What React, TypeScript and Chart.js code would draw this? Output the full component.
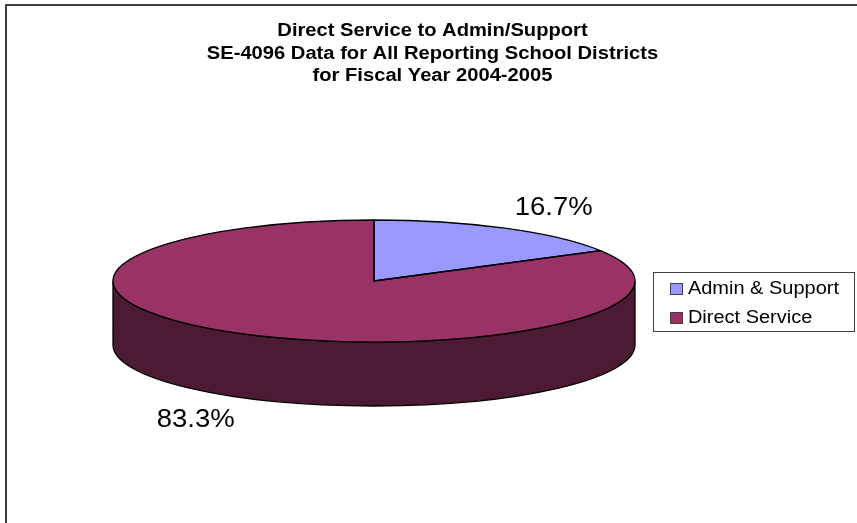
import { useEffect, useRef } from "react";
import { Chart, registerables } from "chart.js";
import type { Plugin } from "chart.js";

Chart.register(...registerables);

const categories = ["Admin & Support", "Direct Service"];
const shares = [16.7, 83.3];
const topColors = ["#9999ff", "#993366"];
const wallColors = ["#4d4d80", "#4d1a33"];
const titleLines = [
  "Direct Service to Admin/Support",
  "SE-4096 Data for All Reporting School Districts",
  "for Fiscal Year 2004-2005",
];

const FONT = "'Liberation Sans', Arial, sans-serif";

// Tilted-disc geometry of the pie on the canvas.
const CENTER_X = 374;
const CENTER_Y = 281;
const RADIUS_X = 261;
const RADIUS_Y = 61;
const DEPTH = 64;

// All text on this chart is set a little wider than the font's natural width.
const TITLE_STRETCH = 1.12;
const LEGEND_STRETCH = 1.11;
const LABEL_STRETCH = 1.1;

// Percentage labels: distance from the rim at each slice's mid angle.
const LABEL_SHIFT = [
  { dx: 49, dy: -20 },
  { dx: -47.5, dy: 86 },
];

function stretchDraw(ctx: CanvasRenderingContext2D, block: any, getOrigin: () => number, factor: number) {
  const draw = block.draw.bind(block);
  block.draw = (area: any) => {
    const origin = getOrigin();
    ctx.save();
    ctx.translate(origin, 0);
    ctx.scale(factor, 1);
    ctx.translate(-origin, 0);
    draw(area);
    ctx.restore();
  };
}

const tiltedPie: Plugin<"pie"> = {
  id: "tiltedPie",
  beforeDatasetsDraw(chart) {
    const { ctx } = chart;
    const arcs = chart.getDatasetMeta(0).data as any[];
    const first = arcs[0];

    // Side wall, visible only on the front half of the disc.
    arcs.forEach((arc, i) => {
      const start = Math.max(arc.startAngle, 0);
      const end = Math.min(arc.endAngle, Math.PI);
      if (end <= start) return;
      ctx.save();
      ctx.beginPath();
      ctx.ellipse(CENTER_X, CENTER_Y, RADIUS_X, RADIUS_Y, 0, start, end);
      ctx.ellipse(CENTER_X, CENTER_Y + DEPTH, RADIUS_X, RADIUS_Y, 0, end, start, true);
      ctx.closePath();
      ctx.fillStyle = wallColors[i];
      ctx.fill();
      ctx.strokeStyle = "#000";
      ctx.lineWidth = 1.3;
      ctx.stroke();
      ctx.restore();
    });

    // The library's own arcs are squashed onto the ellipse.
    ctx.save();
    ctx.translate(CENTER_X, CENTER_Y);
    ctx.scale(RADIUS_X / first.outerRadius, RADIUS_Y / first.outerRadius);
    ctx.translate(-first.x, -first.y);
  },
  afterDatasetsDraw(chart) {
    const { ctx } = chart;
    ctx.restore();
    const arcs = chart.getDatasetMeta(0).data as any[];

    arcs.forEach((arc, i) => {
      ctx.save();
      ctx.beginPath();
      ctx.moveTo(CENTER_X, CENTER_Y);
      ctx.ellipse(CENTER_X, CENTER_Y, RADIUS_X, RADIUS_Y, 0, arc.startAngle, arc.endAngle);
      ctx.closePath();
      ctx.strokeStyle = "#000";
      ctx.lineWidth = 1.3;
      ctx.stroke();

      const mid = (arc.startAngle + arc.endAngle) / 2;
      ctx.translate(CENTER_X + RADIUS_X * Math.cos(mid) + LABEL_SHIFT[i].dx, CENTER_Y + RADIUS_Y * Math.sin(mid) + LABEL_SHIFT[i].dy);
      ctx.scale(LABEL_STRETCH, 1);
      ctx.fillStyle = "#000";
      ctx.font = `25px ${FONT}`;
      ctx.textAlign = "center";
      ctx.textBaseline = "middle";
      ctx.fillText(`${shares[i].toFixed(1)}%`, 0, 0);
      ctx.restore();
    });
  },
};

// Outer frame of the chart, the box round the legend and its outlined swatches.
const frames: Plugin<"pie"> = {
  id: "frames",
  beforeDraw(chart) {
    const { ctx } = chart;
    const anyChart = chart as any;
    if (!anyChart.$textStretched) {
      anyChart.$textStretched = true;
      const title = anyChart.titleBlock;
      const legend = anyChart.legend;
      stretchDraw(ctx, title, () => (title.left + title.right) / 2, TITLE_STRETCH);
      stretchDraw(ctx, legend, () => legend.legendHitBoxes[0].left + 12, LEGEND_STRETCH);
    }
    ctx.save();
    ctx.strokeStyle = "#404040";
    ctx.lineWidth = 2;
    ctx.beginPath();
    ctx.moveTo(6, chart.height);
    ctx.lineTo(6, 5);
    ctx.lineTo(chart.width, 5);
    ctx.stroke();
    ctx.restore();
  },
  afterDraw(chart) {
    const { ctx } = chart;
    const boxes = (chart.legend as any).legendHitBoxes as { left: number; top: number; height: number }[];
    const left = Math.round(boxes[0].left) - 23;
    const top = Math.round(boxes[0].top) - 8;
    ctx.save();
    ctx.strokeStyle = "#404040";
    ctx.lineWidth = 1;
    ctx.strokeRect(left + 0.5, top + 0.5, 201, 59);
    boxes.forEach((box, i) => {
      const x = Math.round(box.left) - 6;
      const y = Math.round(box.top + box.height / 2) - 6;
      ctx.fillStyle = topColors[i];
      ctx.fillRect(x + 0.5, y + 0.5, 12, 11);
      ctx.strokeRect(x + 0.5, y + 0.5, 12, 11);
    });
    ctx.restore();
  },
};

export default function App() {
  const ref = useRef<HTMLCanvasElement>(null);

  useEffect(() => {
    const chart = new Chart(ref.current!, {
      type: "pie",
      data: {
        labels: categories,
        datasets: [
          {
            data: shares,
            backgroundColor: topColors,
            borderWidth: 0,
            clip: false,
          } as any,
        ],
      },
      options: {
        responsive: false,
        animation: false,
        radius: 261,
        layout: { padding: { left: 31, right: 23, top: 0, bottom: 14 } },
        plugins: {
          title: {
            display: true,
            text: titleLines,
            color: "#000",
            font: { family: FONT, size: 18, weight: "bold", lineHeight: 1.25 },
            padding: { top: 20, bottom: 10 },
          },
          legend: {
            position: "right",
            fullSize: false,
            labels: {
              color: "#000",
              font: { family: FONT, size: 18 },
              boxWidth: 3,
              boxHeight: 5,
              padding: 11,
            },
          },
          tooltip: { enabled: false },
        },
      },
      plugins: [tiltedPie, frames],
    });
    return () => chart.destroy();
  }, []);

  return (
    <canvas
      ref={ref}
      width={857}
      height={523}
      style={{ position: "fixed", left: 0, top: 0, display: "block", background: "#fff" }}
    />
  );
}
